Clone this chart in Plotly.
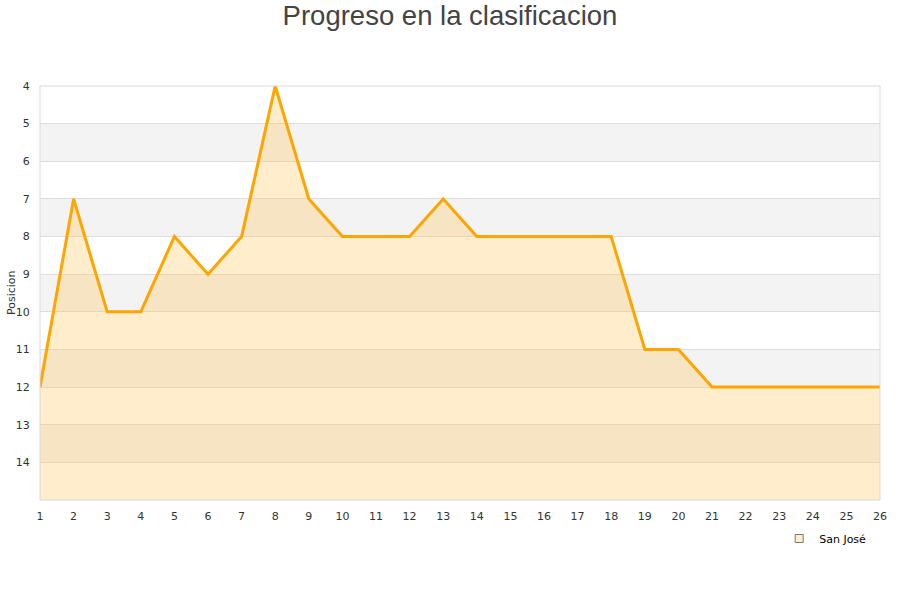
import plotly.graph_objects as go

jornadas = list(range(1, 27))
posiciones = [12, 7, 10, 10, 8, 9, 8, 4, 7, 8, 8, 8, 7, 8, 8, 8, 8, 8, 11, 11, 12, 12, 12, 12, 12, 12]
equipo = "San José"
y_min, y_max = 4, 15

fig = go.Figure()
# baseline for fill
fig.add_trace(go.Scatter(x=jornadas, y=[y_max] * len(jornadas), mode="lines",
                         line=dict(width=0, color="rgba(0,0,0,0)"), showlegend=False, hoverinfo="skip"))
fig.add_trace(go.Scatter(x=jornadas, y=posiciones, mode="lines", fill="tonexty",
                         fillcolor="rgba(255,195,85,0.3)",
                         line=dict(color="#ffa500", width=3), showlegend=False, name=equipo))
# legend entry
fig.add_trace(go.Scatter(x=[None], y=[None], mode="markers", name=equipo,
                         marker=dict(symbol="square", size=8, color="#ffedcc",
                                     line=dict(color="#777777", width=1))))

shapes = []
for v in range(y_min, y_max):
    if (v - y_min) % 2 == 1:
        shapes.append(dict(type="rect", xref="paper", yref="y", x0=0, x1=1, y0=v, y1=v + 1,
                           fillcolor="#f3f3f3", line=dict(width=0), layer="below"))
shapes.append(dict(type="rect", xref="paper", yref="paper", x0=0, x1=1, y0=0, y1=1,
                   line=dict(color="#d9d9d9", width=1), fillcolor="rgba(0,0,0,0)"))

fig.update_layout(
    width=900, height=600,
    margin=dict(l=40, r=20, t=86, b=100, autoexpand=False),
    paper_bgcolor="white", plot_bgcolor="white",
    font=dict(family="DejaVu Sans", size=11, color="#333333"),
    title=dict(text="Progreso en la clasificacion", x=0.5, xanchor="center", y=0.975, yanchor="middle",
               font=dict(family="Liberation Sans", size=27.5, color="#444444")),
    shapes=shapes,
    showlegend=True,
    legend=dict(x=0.88, y=-0.058, xanchor="left", yanchor="top", font=dict(size=11, color="#000000"),
                bgcolor="rgba(0,0,0,0)"),
    xaxis=dict(range=[1, 26], tickmode="array", tickvals=jornadas, ticktext=[str(j) for j in jornadas],
               showgrid=False, zeroline=False, showline=False, ticks="outside", ticklen=6,
               tickcolor="rgba(0,0,0,0)", tickfont=dict(size=11), automargin=False),
    yaxis=dict(range=[y_max, y_min], tickmode="array", tickvals=list(range(y_min, y_max)),
               showgrid=True, gridcolor="#dddddd", gridwidth=1, zeroline=False, showline=False,
               ticks="outside", ticklen=7, tickcolor="rgba(0,0,0,0)", tickfont=dict(size=11),
               automargin=False),
    annotations=[dict(text="Posicion", xref="paper", yref="paper", x=-0.0345, y=0.5,
                      xanchor="center", yanchor="middle", textangle=-90, showarrow=False,
                      font=dict(size=11, color="#333333"))],
)

fig.write_html("out.html", post_script="document.body.style.margin='0';",
               config={"displayModeBar": False})
